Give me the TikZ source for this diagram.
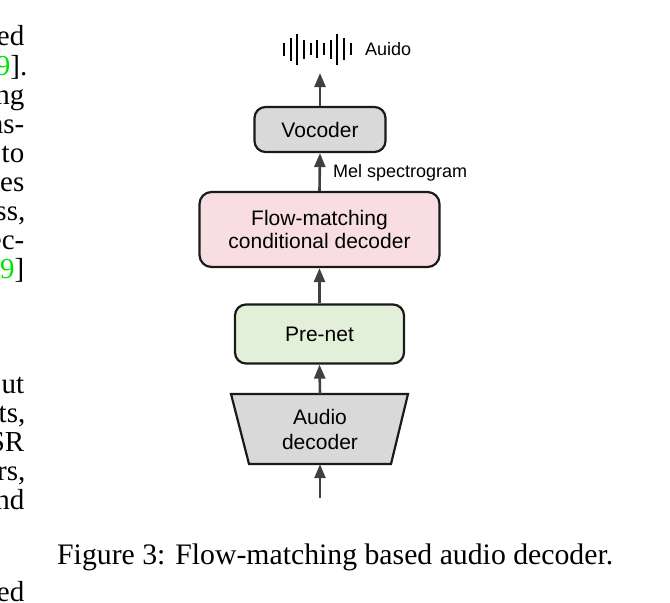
\documentclass[tikz,border=0pt]{standalone}
\usepackage{fontspec}
\setmainfont{Liberation Serif}
\newfontfamily\diagfont{Liberation Sans}
\usetikzlibrary{arrows.meta}
\definecolor{arrowgray}{RGB}{64,64,64}
\definecolor{boxgray}{RGB}{217,217,217}
\definecolor{boxpink}{RGB}{248,222,226}
\definecolor{boxgreen}{RGB}{226,240,217}
\definecolor{edgeblack}{RGB}{26,26,26}
\definecolor{linkgreen}{RGB}{0,230,0}
\tikzset{
  blockbox/.style={draw=edgeblack, line width=2.2pt, rounded corners=11pt, inner sep=0pt, align=center, font=\diagfont\fontsize{21}{23}\selectfont},
  flowarrow/.style={draw=arrowgray, line width=2.6pt, -{Triangle[length=14pt,width=11pt]}},
  labeltext/.style={font=\diagfont\fontsize{18}{20}\selectfont, inner sep=0pt},
  fragtext/.style={font=\fontsize{29}{29}\selectfont, inner sep=0pt, anchor=base east},
  captiontext/.style={font=\fontsize{29.75}{32}\selectfont, inner sep=0pt, anchor=base west},
  wavebar/.style={draw=black, line width=2pt}
}
\begin{document}
\begin{tikzpicture}[x=1pt,y=-1pt]
\useasboundingbox (0,0) rectangle (670,603);
% left column fragments
\node[fragtext] (f1) at (24.5,45) {ed};
\node[fragtext] (f2) at (27.5,75) {\textcolor{linkgreen}{9}].};
\node[fragtext] (f3) at (24.5,104) {ng};
\node[fragtext] (f4) at (24.5,133) {ns-};
\node[fragtext] (f5) at (24.5,162) {to};
\node[fragtext] (f6) at (24.5,191) {es};
\node[fragtext] (f7) at (25.5,220) {ss,};
\node[fragtext] (f8) at (24.5,249) {ec-};
\node[fragtext] (f9) at (24.5,278) {\textcolor{linkgreen}{9}]};
\node[fragtext] (f10) at (24.5,393) {ut};
\node[fragtext] (f11) at (25.5,422) {ts,};
\node[fragtext] (f12) at (24.5,451) {SR};
\node[fragtext] (f13) at (25.5,480) {rs,};
\node[fragtext] (f14) at (24.5,509) {nd};
\node[fragtext] (f15) at (24.5,601) {ed};
% blocks
\node[blockbox, fill=boxgray, minimum width=131pt, minimum height=45pt] (voc) at (320,129.5) {Vocoder};
\node[blockbox, fill=boxpink, minimum width=240pt, minimum height=75pt, rounded corners=12pt] (flow) at (319.5,229.5) {Flow-matching\\conditional decoder};
\node[blockbox, fill=boxgreen, minimum width=169pt, minimum height=59pt] (pre) at (319.5,334) {Pre-net};
% audio decoder trapezoid
\draw[draw=edgeblack, line width=2.2pt, fill=boxgray, line join=miter] (231,394) -- (408,394) -- (391,464) -- (249,464) -- cycle;
\node[inner sep=0pt, minimum height=70pt, minimum width=140pt, align=center, font=\diagfont\fontsize{21}{25}\selectfont] (aud) at (320,429) {Audio\\decoder};
% output coordinates
\coordinate (outtop) at (320,73);
\coordinate (inbot) at (320,498);
% arrows
\draw[flowarrow] (inbot) -- (aud.south);
\draw[flowarrow] (aud.north) -- (pre.south);
\draw[flowarrow] (pre.north) -- (flow.south);
\draw[flowarrow] (flow.north) -- (voc.south);
\draw[flowarrow] (voc.north) -- (outtop);
% labels
\node[labeltext, anchor=base west] (mel) at (333,177) {Mel spectrogram};
\node[labeltext, anchor=base west] (auido) at (365,55) {Auido};
% waveform
\foreach \i/\h in {0/13,1/23,2/31,3/19,4/12,5/18,6/12,7/19,8/31,9/22,10/12}{
  \draw[wavebar] (284+\i*6.67,49.3-\h/2) -- (284+\i*6.67,49.3+\h/2);
}
% caption
\node[captiontext] (cap) at (57,564) {Figure 3: Flow-matching based audio decoder.};
\end{tikzpicture}
\end{document}
